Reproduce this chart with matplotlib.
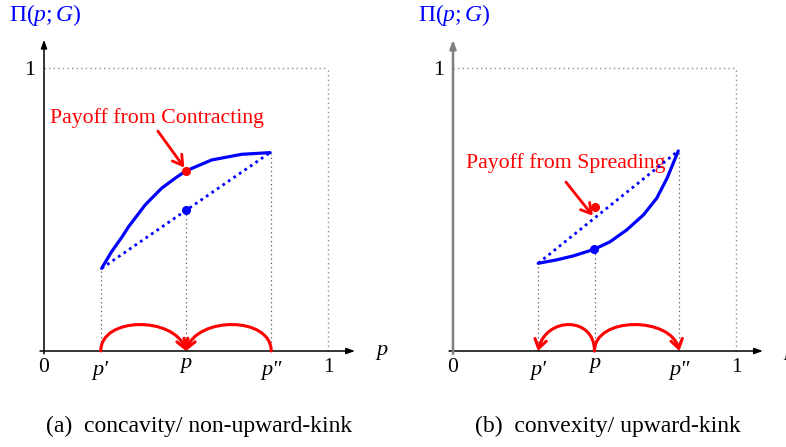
import matplotlib
matplotlib.use("Agg")
import matplotlib.pyplot as plt
from matplotlib.patches import FancyArrowPatch
from matplotlib.path import Path

plt.rcParams['font.family'] = ['Liberation Serif', 'DejaVu Serif']
plt.rcParams['mathtext.fontset'] = 'custom'
plt.rcParams['mathtext.rm'] = 'Liberation Serif'
plt.rcParams['mathtext.it'] = 'Liberation Serif:italic'

W, H = 786, 447

# points (p, payoff)
concave_x = [0.203, 0.238, 0.274, 0.297, 0.356, 0.414, 0.461, 0.499, 0.590, 0.696, 0.796]
concave_y = [0.292, 0.351, 0.402, 0.438, 0.516, 0.575, 0.610, 0.636, 0.675, 0.695, 0.701]
convex_x = [0.301, 0.366, 0.425, 0.498, 0.555, 0.614, 0.673, 0.720, 0.757, 0.796]
convex_y = [0.310, 0.322, 0.336, 0.359, 0.386, 0.428, 0.481, 0.540, 0.612, 0.707]

# p', p, p'' for each panel
p_left = [0.2, 0.5, 0.8]
p_right = [0.3, 0.5, 0.8]
tick_labels = ["p\u2032", "p", "p\u2033"]
tick_base = [-0.085, -0.060, -0.085]

captions = ["(a)  concavity/ non-upward-kink", "(b)  convexity/ upward-kink"]
notes = ["Payoff from Contracting", "Payoff from Spreading"]

BLUE = '#0000ff'
RED = '#ff0000'


# axes whose data origin sits at pixel (ox, oy), with sx, sy pixels per unit
def make_axes(fig, x0, x1, ox, oy, sx, sy):
    xmin, xmax = -(ox - x0) / sx, (x1 - ox) / sx
    ymin, ymax = -(H - oy) / sy, oy / sy
    ax = fig.add_axes([x0 / W, 0, (x1 - x0) / W, 1])
    ax.set_xlim(xmin, xmax)
    ax.set_ylim(ymin, ymax)
    ax.axis('off')
    return ax


def bend(ax, start, end, h, back):
    # curved red arrow along the axis, leaving start vertically
    sgn = 1 if end > start else -1
    verts = [(start, 0), (start, h), (end - sgn * back, h), (end, 0)]
    codes = [Path.MOVETO, Path.CURVE4, Path.CURVE4, Path.CURVE4]
    arr = FancyArrowPatch(path=Path(verts, codes),
                          arrowstyle='->,head_length=0.45,head_width=0.3',
                          mutation_scale=14, color=RED, lw=2.2,
                          zorder=5)
    ax.add_patch(arr)


def draw_frame(ax, ps, yaxis_color, yaxis_lw):
    # grey box at 1
    ax.plot([0, 1], [1, 1], color='0.55', lw=1.0, ls=(0, (1, 2.3)))
    ax.plot([1, 1], [0, 1], color='0.55', lw=1.0, ls=(0, (1, 2.3)))
    # axes with arrows
    ax.annotate('', xy=(1.095, 0), xytext=(-0.014, 0),
                arrowprops=dict(arrowstyle='-|>,head_length=0.5,head_width=0.18',
                                color='black', lw=1.1, shrinkA=0, shrinkB=0))
    ax.annotate('', xy=(0, 1.10), xytext=(0, -0.01),
                arrowprops=dict(arrowstyle='-|>,head_length=0.5,head_width=0.18',
                                color=yaxis_color, lw=yaxis_lw, shrinkA=0, shrinkB=0))
    ax.text(0, -0.074, '0', fontsize=15.5, ha='center', va='baseline')
    ax.text(1, -0.074, '1', fontsize=15.5, ha='center', va='baseline')
    ax.text(-0.03, 0.975, '1', fontsize=16, ha='right', va='baseline')
    for p, lab, yb in zip(ps, tick_labels, tick_base):
        ax.text(p, yb, lab, fontsize=16, style='italic', ha='center', va='baseline')
    ax.text(1.17, -0.014, 'p', fontsize=16, style='italic', ha='left', va='baseline')
    ax.text(-0.122, 1.166, r'$\Pi(p;G)$', fontsize=17, color=BLUE,
            ha='left', va='baseline')


fig = plt.figure(figsize=(W / 100, H / 100), dpi=100)

# ---- left panel: concave
ax = make_axes(fig, 0, 393, 44, 351, 284, 283)
draw_frame(ax, p_left, 'black', 1.1)
mid_l = (concave_y[0] + concave_y[-1]) / 2
for p, top in zip(p_left, [concave_y[0], mid_l, concave_y[-1]]):
    ax.plot([p, p], [0, top], color='0.35', lw=0.9, ls=(0, (1, 2.5)))
ax.plot(concave_x, concave_y, color=BLUE, lw=2.3, solid_capstyle='round',
        solid_joinstyle='round', zorder=3)
ax.plot([concave_x[0], concave_x[-1]], [concave_y[0], concave_y[-1]],
        color=BLUE, lw=2.0, ls=(0, (1, 1.4)), zorder=3)
ax.plot(0.5, mid_l, 'o', color=BLUE, ms=5.5, zorder=4)
ax.plot(concave_x[7], concave_y[7], 'o', color=RED, ms=5.5, zorder=4)
ax.text(0.021, 0.806, notes[0], fontsize=15.7, color=RED, ha='left', va='baseline')
ax.annotate('', xy=(0.494, 0.648), xytext=(0.401, 0.777),
            arrowprops=dict(arrowstyle='->,head_length=0.5,head_width=0.3',
                            color=RED, lw=2.0, shrinkA=0, shrinkB=0,
                            mutation_scale=14))
bend(ax, p_left[0], p_left[1], 0.123, 0.04)
bend(ax, p_left[2], p_left[1], 0.123, 0.04)

# ---- right panel: convex
ax = make_axes(fig, 393, 786, 453, 351, 283, 283)
draw_frame(ax, p_right, '0.5', 1.8)
mid_r = (convex_y[0] + convex_y[-1]) / 2
for p, top in zip(p_right, [convex_y[0], convex_y[3], convex_y[-1]]):
    ax.plot([p, p], [0, top], color='0.35', lw=0.9, ls=(0, (1, 2.5)))
ax.text(0.046, 0.647, notes[1], fontsize=15.7, color=RED, ha='left', va='baseline')
ax.plot(convex_x, convex_y, color=BLUE, lw=2.3, solid_capstyle='round',
        solid_joinstyle='round', zorder=3)
ax.plot([convex_x[0], convex_x[-1]], [convex_y[0], convex_y[-1]],
        color=BLUE, lw=2.0, ls=(0, (1, 1.4)), zorder=3)
ax.plot(convex_x[3], convex_y[3], 'o', color=BLUE, ms=5.5, zorder=4)
ax.plot(0.5, mid_r, 'o', color=RED, ms=5.5, zorder=4)
ax.annotate('', xy=(0.494, 0.478), xytext=(0.399, 0.597),
            arrowprops=dict(arrowstyle='->,head_length=0.5,head_width=0.3',
                            color=RED, lw=2.0, shrinkA=0, shrinkB=0,
                            mutation_scale=14))
bend(ax, p_right[1], p_right[0], 0.123, 0.03)
bend(ax, p_right[1], p_right[2], 0.123, 0.03)

fig.text(199 / W, 1 - 432 / H, captions[0], fontsize=17, ha='center', va='baseline')
fig.text(608 / W, 1 - 432 / H, captions[1], fontsize=17, ha='center', va='baseline')

fig.savefig('out.png', dpi=100)
